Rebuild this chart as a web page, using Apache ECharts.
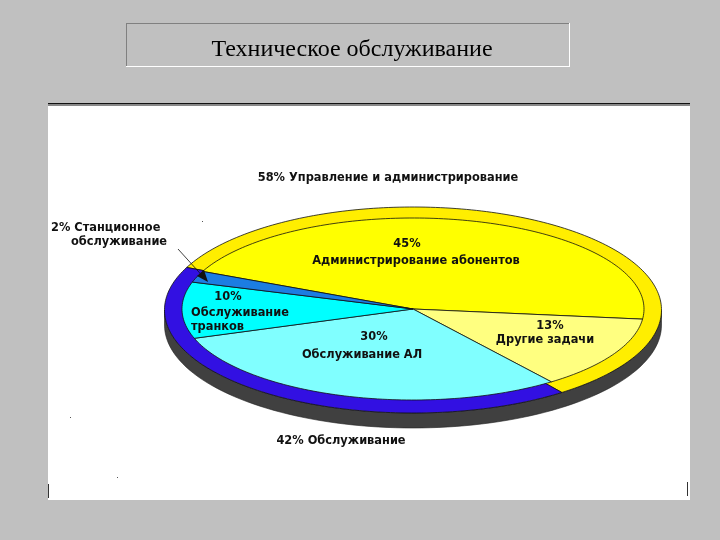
<!DOCTYPE html>
<html><head><meta charset="utf-8">
<style>html,body{margin:0;padding:0;background:#c0c0c0}#c{width:720px;height:540px}</style>
<script src="https://cdn.jsdelivr.net/npm/echarts@6/dist/echarts.min.js"></script>
</head><body><div id="c"></div>
<script>
const titleText = 'Техническое обслуживание';
const groupNames = ['Управление и администрирование', 'Обслуживание'];
const groupValues = [58, 42];
const taskNames = ['Администрирование абонентов', 'Другие задачи', 'Обслуживание АЛ', 'Обслуживание транков', 'Станционное обслуживание'];
const taskValues = [45, 13, 30, 10, 2];

const groupColors = ['#ffee00', '#3210e2'];
const taskColors = ['#ffff00', '#ffff80', '#80ffff', '#00ffff', '#1c7de2'];
const START_DEG = 204.4, CX = 413, CY = 309;
const OUTER = {rx: 248.5, ry: 103, cy: 310}, INNER = {rx: 231, ry: 91, cy: 309}, DEPTH = 15;

function cumulate(vals) { let s = 0; return vals.map(v => { const a = [s, v]; s += v; return a; }); }
function slicePoints(g, from, share) {
  const pts = [[CX, g.cy]];
  const a0 = START_DEG + from * 3.6, n = Math.max(4, Math.round(share * 3));
  for (let i = 0; i <= n; i++) {
    const t = (a0 + share * 3.6 * i / n) * Math.PI / 180;
    pts.push([CX + g.rx * Math.cos(t), g.cy + g.ry * Math.sin(t)]);
  }
  return pts;
}
function sliceSeries(name, g, vals, colors, names) {
  return {
    type: 'custom', name, coordinateSystem: 'none', silent: true,
    data: cumulate(vals).map((v, i) => ({name: names[i], value: v})),
    renderItem(params, api) {
      return {type: 'polygon',
        shape: {points: slicePoints(g, api.value(0), api.value(1))},
        style: {fill: colors[params.dataIndex], stroke: '#111', lineWidth: 0.8}};
    }
  };
}
const sideSeries = {
  type: 'custom', name: 'side', coordinateSystem: 'none', silent: true,
  data: [[100]],
  renderItem() {
    const top = [], bottom = [];
    for (let d = 0; d <= 180; d += 2) {
      const t = d * Math.PI / 180;
      const x = CX + OUTER.rx * Math.cos(t), y = OUTER.cy + OUTER.ry * Math.sin(t);
      top.push([x, y]); bottom.unshift([x, y + DEPTH]);
    }
    return {type: 'polygon', shape: {points: top.concat(bottom)},
      style: {fill: '#404040', stroke: '#222', lineWidth: 0.6}};
  }
};
const LABEL_FONT = 'bold 11.4px "DejaVu Sans", sans-serif';
function label(text, x, y, align) {
  return {type: 'text', x, y, z: 20, style: {text, x: 0, y: 0, font: LABEL_FONT, fill: '#111',
    align: align || 'center', verticalAlign: 'middle'}};
}
const rect = (x, y, w, h, fill, z) => ({type: 'rect', z: z === undefined ? -10 : z, shape: {x, y, width: w, height: h}, style: {fill}});
const chart = echarts.init(document.getElementById('c'), null, {renderer: 'canvas'});
chart.setOption({
  backgroundColor: '#c0c0c0',
  animation: false,
  series: [sideSeries,
    sliceSeries('groups', OUTER, groupValues, groupColors, groupNames),
    sliceSeries('tasks', INNER, taskValues, taskColors, taskNames)],
  graphic: [
    rect(48, 104, 642, 396, '#ffffff'),
    rect(48, 103, 642, 1.5, '#111111', -9),
    rect(48, 105, 642, 1, '#888888', -9),
    rect(48, 484, 1, 14, '#333333', -9),
    rect(687, 482, 1, 14, '#333333', -9),
    rect(126, 23, 443, 1, '#808080', -9),
    rect(126, 23, 1, 43, '#808080', -9),
    rect(126, 66, 444, 1, '#ffffff', -9),
    rect(569, 23, 1, 43, '#ffffff', -9),
    rect(202, 221, 1, 1, '#555555', -9),
    rect(70, 417, 1, 1, '#555555', -9),
    rect(117, 477, 1, 1, '#555555', -9),
    {type: 'text', x: 352, y: 50, z: 20, style: {text: titleText, x: 0, y: 0,
      font: '24px "Liberation Serif", serif', fill: '#000', align: 'center', verticalAlign: 'middle'}},
    label(groupValues[0] + '% ' + groupNames[0], 388, 178),
    label(taskValues[4] + '% Станционное', 51, 228, 'left'),
    label('обслуживание', 71, 242, 'left'),
    label(taskValues[0] + '%', 407, 244),
    label(taskNames[0], 416, 261),
    label(taskValues[3] + '%', 228, 297),
    label('Обслуживание', 191, 313, 'left'),
    label('транков', 191, 327, 'left'),
    label(taskValues[2] + '%', 374, 337),
    label(taskNames[2], 362, 355),
    label(taskValues[1] + '%', 550, 326),
    label(taskNames[1], 545, 340),
    label(groupValues[1] + '% ' + groupNames[1], 341, 441),
    {type: 'line', z: 15, shape: {x1: 178, y1: 249, x2: 207, y2: 281}, style: {stroke: '#111', lineWidth: 0.8}},
    {type: 'polygon', z: 15, shape: {points: [[208, 282], [197, 276], [204, 270]]}, style: {fill: '#111'}}
  ]
});
</script></body></html>
